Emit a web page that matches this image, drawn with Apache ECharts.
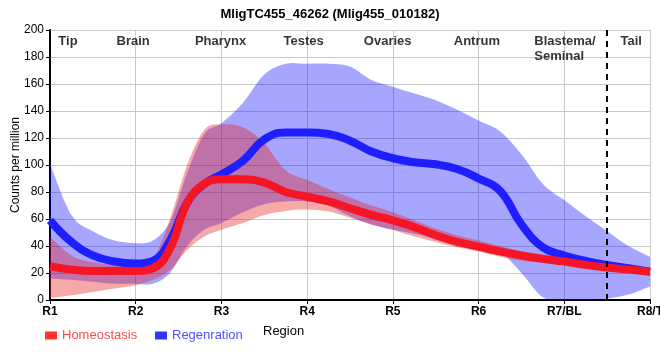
<!DOCTYPE html>
<html><head><meta charset="utf-8">
<script src="https://cdn.jsdelivr.net/npm/echarts@6/dist/echarts.min.js"></script>
<style>html,body{margin:0;padding:0;background:#fff}#c{width:660px;height:360px}</style>
</head><body><div id="c"></div>
<script>
const title = "MligTC455_46262 (Mlig455_010182)";
const tickLabels = ["R1","R2","R3","R4","R5","R6","R7/BL","R8/T"];
const xPos = [1,1.25,1.5,1.75,2,2.2,2.4,2.6,2.8,3,3.25,3.5,3.75,4,4.25,4.5,4.75,5,5.25,5.5,5.75,6,6.25,6.5,6.75,7,7.25,7.5,7.75,8];
const regenMean  = [59,43,33,28.5,27,29,44,72,86,93,103,119,124,124,123,118,110,105,102,100.5,97,90,81,56,39,33,29,26,23.5,21];
const regenUpper = [101,63,51,44,42,44,58,94,123,131,146,167,175,175,175,173,163,158,153,148,141,133,125,108,86,74,62,51,40,32];
const regenLower = [16,15,13.5,12,12,12,20,40,52,57,65,71,73,73,70,62,56,52,49,45,41,38,35.5,20,2,0,0,1,4,10];
const homeoMean  = [25,22.5,21.5,21.5,21.5,23.5,38,72,86,89.5,89.5,87,80,76.5,73,68,63,59,54,48,43,39.5,36,33,30.5,28.5,26,24,22.5,21];
const homeoUpper = [47,33,28,26,25.5,30,60,100,126,130,128,116,96,89,82,76,70,65,59,53,48,44,40,36,33,31,29,27,25.5,24];
const homeoLower = [1.5,3.5,6,8.5,11,15,22,37,47,52,57,63,66,67,65.5,61,56,52,47,43,39,36,32,29,27.5,26,24,22,20,18.5];
const regionNames = ["Tip","Brain","Pharynx","Testes","Ovaries","Antrum","Tail"];
const regionX = [1.21,1.97,2.99,3.96,4.94,5.98,7.78];
const blastemaLabel = "Blastema/\nSeminal";
const blastemaX = 6.65;
const labelY = 197;
const dividerX = 7.5;

const FONT = '"Liberation Sans Narrow","Arial Narrow","Liberation Sans",Arial,sans-serif';
const pairs = (ys) => xPos.map((x,i)=>[x, ys[i]]);
const SM = 0.45;

function crSegs(pts){
  let d = '';
  for (let i=0;i<pts.length-1;i++){
    const p0 = pts[i-1]||pts[i], p1 = pts[i], p2 = pts[i+1], p3 = pts[i+2]||pts[i+1];
    const c1x = p1[0]+(p2[0]-p0[0])/6, c1y = p1[1]+(p2[1]-p0[1])/6;
    const c2x = p2[0]-(p3[0]-p1[0])/6, c2y = p2[1]-(p3[1]-p1[1])/6;
    d += ` C ${c1x} ${c1y} ${c2x} ${c2y} ${p2[0]} ${p2[1]}`;
  }
  return d;
}
function bandSeries(name, upper, lower, color){
  return {name, type:'custom', silent:true, clip:true, data:[[xPos[0], lower[0]]], encode:{x:0,y:1},
    renderItem:(params, api)=>{
      const up = upper.map((v,i)=>api.coord([xPos[i], v]));
      const lo = lower.map((v,i)=>api.coord([xPos[i], v])).reverse();
      const d = `M ${up[0][0]} ${up[0][1]}` + crSegs(up) + ` L ${lo[0][0]} ${lo[0][1]}` + crSegs(lo) + ' Z';
      return {type:'path', shape:{pathData:d}, style:{fill:color, stroke:null}};
    }};
}

const chart = echarts.init(document.getElementById('c'), null, {renderer:'canvas'});
chart.setOption({
  animation:false,
  title:{text:title,left:'center',top:3,textStyle:{fontFamily:FONT,fontSize:13,fontWeight:'bold',color:'#000'}},
  grid:{left:50,right:10,top:30,bottom:60,containLabel:false,outerBoundsMode:'none'},
  legend:[
    {left:40,top:324,icon:'rect',itemWidth:12,itemHeight:8,textStyle:{fontFamily:FONT,fontSize:13,color:'#ff4a4a'},data:['Homeostasis']},
    {left:150,top:324,icon:'rect',itemWidth:12,itemHeight:8,textStyle:{fontFamily:FONT,fontSize:13,color:'#5050ff'},data:['Regenration']}
  ],
  xAxis:{type:'value',min:1,max:8,interval:1,
    axisLine:{show:true,onZero:false,lineStyle:{color:'#000',width:2}},
    axisTick:{show:true,length:4,lineStyle:{color:'#000',width:1}},
    axisLabel:{fontFamily:FONT,fontSize:12,fontWeight:'bold',color:'#000',margin:6,
      formatter:(v)=>tickLabels[Math.round(v)-1]||''},
    splitLine:{show:true,lineStyle:{color:'#c8c8c8',width:1}}},
  yAxis:{type:'value',min:0,max:200,interval:20,
    name:'Counts per million',nameLocation:'middle',nameGap:28,nameMoveOverlap:false,
    nameTextStyle:{fontFamily:FONT,fontSize:12,color:'#000'},
    axisLine:{show:true,lineStyle:{color:'#000',width:2}},
    axisTick:{show:true,length:4,lineStyle:{color:'#000'}},
    axisLabel:{fontFamily:FONT,fontSize:12,color:'#000',margin:6},
    splitLine:{show:true,lineStyle:{color:'#c8c8c8',width:1}}},
  graphic:[{type:'text',left:263,top:325,style:{text:'Region',fontFamily:FONT,fontSize:13,fill:'#000'}}],
  series:[
    bandSeries('rb', regenUpper, regenLower, 'rgba(0,0,255,0.35)'),
    {name:'Regenration',type:'line',data:pairs(regenMean),smooth:SM,symbol:'none',color:'#3333ff',
      lineStyle:{color:'#1e1eff',width:8}},
    bandSeries('hb', homeoUpper, homeoLower, 'rgba(228,30,30,0.38)'),
    {name:'Homeostasis',type:'line',data:pairs(homeoMean),smooth:SM,symbol:'none',color:'#ff3333',
      lineStyle:{color:'#f51525',width:8},
      markLine:{silent:true,symbol:'none',label:{show:false},lineStyle:{color:'#000',type:[6,5],width:2},data:[{xAxis:dividerX}]}},
    {name:'regions',type:'scatter',symbolSize:0,silent:true,
      data:regionNames.map((n,i)=>({name:n,value:[regionX[i],labelY]})).concat([{name:blastemaLabel,value:[blastemaX,labelY],label:{align:'left'}}]),
      label:{show:true,position:'inside',align:'center',verticalAlign:'top',formatter:(p)=>p.name,
        fontFamily:FONT,fontSize:13,fontWeight:'bold',color:'#000',lineHeight:15}}
  ]
});
</script></body></html>
